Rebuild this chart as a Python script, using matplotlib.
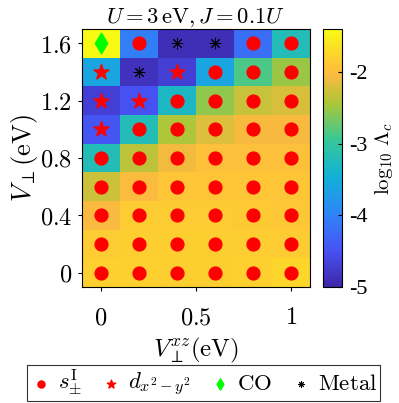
import numpy as np
import matplotlib
matplotlib.use("Agg")
import matplotlib.pyplot as plt
from matplotlib.colors import LinearSegmentedColormap

plt.rcParams["mathtext.fontset"] = "cm"
plt.rcParams["font.family"] = "DejaVu Serif"

# data
v_xz = [0.0, 0.2, 0.4, 0.6, 0.8, 1.0]
v_perp = [0.0, 0.2, 0.4, 0.6, 0.8, 1.0, 1.2, 1.4, 1.6]
# log10 Lambda_c, rows follow v_perp (bottom to top), columns follow v_xz
log_lambda = [
    [-1.80, -1.80, -1.81, -1.81, -1.80, -1.74],
    [-1.84, -1.82, -1.82, -1.82, -1.83, -1.85],
    [-2.05, -1.85, -1.84, -1.84, -1.86, -1.88],
    [-2.28, -2.02, -1.90, -1.90, -1.90, -1.90],
    [-3.20, -2.35, -2.10, -1.95, -1.95, -1.95],
    [-4.45, -3.20, -2.42, -2.20, -2.07, -2.07],
    [-4.70, -4.50, -3.30, -2.55, -2.30, -2.22],
    [-3.60, -4.85, -4.70, -3.60, -2.85, -2.50],
    [-1.40, -4.05, -4.90, -4.90, -4.20, -3.20],
]
# S = s+-, D = d_{x2-y2}, C = CO, M = Metal
phase = [
    "SSSSSS",
    "SSSSSS",
    "SSSSSS",
    "SSSSSS",
    "SSSSSS",
    "DSSSSS",
    "DDSSSS",
    "DMDSSS",
    "CSMMSS",
]
cbar_ticks = [-5, -4, -3, -2]

parula = LinearSegmentedColormap.from_list("parula", [
    (0.000, (0.2422, 0.1504, 0.6603)),
    (0.143, (0.2810, 0.3228, 0.9579)),
    (0.286, (0.1786, 0.5289, 0.9682)),
    (0.429, (0.0689, 0.6948, 0.8394)),
    (0.571, (0.2161, 0.7843, 0.5923)),
    (0.714, (0.6720, 0.7793, 0.2227)),
    (0.820, (0.9850, 0.7300, 0.2500)),
    (0.857, (0.9970, 0.7659, 0.2199)),
    (1.000, (0.9769, 0.9839, 0.0805)),
])

fig = plt.figure(figsize=(3.99, 4.03), dpi=100)
ax = fig.add_axes([0.2055, 0.288, 0.571, 0.640])
cax = fig.add_axes([0.809, 0.288, 0.0476, 0.640])

z = np.array(log_lambda)
dx = v_xz[1] - v_xz[0]
dy = v_perp[1] - v_perp[0]
im = ax.imshow(z, origin="lower", cmap=parula, vmin=-5, vmax=-1.4, aspect="auto",
               extent=[v_xz[0] - dx / 2, v_xz[-1] + dx / 2,
                       v_perp[0] - dy / 2, v_perp[-1] + dy / 2])

styles = {
    "S": dict(marker="o", color="red", s=85, label=r"$s_{\pm}^{\mathrm{I}}$"),
    "D": dict(marker="*", color="red", s=130, label=r"$d_{x^2-y^2}$"),
    "C": dict(marker="d", color="#00ff00", s=110, label=r"$\mathrm{CO}$"),
    "M": dict(marker=(8, 2, 0), color="black", s=60, linewidths=0.7,
              label=r"$\mathrm{Metal}$"),
}
for key in "SDCM":
    xs, ys = [], []
    for i, row in enumerate(phase):
        for j, p in enumerate(row):
            if p == key:
                xs.append(v_xz[j])
                ys.append(v_perp[i])
    ax.scatter(xs, ys, zorder=3, **styles[key])

ax.set_xlim(v_xz[0] - dx / 2, v_xz[-1] + dx / 2)
ax.set_ylim(v_perp[0] - dy / 2, v_perp[-1] + dy / 2)
ax.set_xticks([0, 0.5, 1])
ax.set_xticklabels([r"$0$", r"$0.5$", r"$1$"])
ax.set_yticks([0, 0.4, 0.8, 1.2, 1.6])
ax.set_yticklabels([r"$0$", r"$0.4$", r"$0.8$", r"$1.2$", r"$1.6$"])
ax.tick_params(labelsize=17.5, length=3, width=0.8)
ax.tick_params(axis="x", pad=11)
ax.tick_params(axis="y", pad=4)
ax.set_xlabel(r"$V_{\perp}^{xz}(\mathrm{eV})$", fontsize=18, labelpad=5)
ax.set_ylabel(r"$V_{\perp}(\mathrm{eV})$", fontsize=19, labelpad=0)
ax.set_title(r"$U = 3\,\mathrm{eV}, J = 0.1U$", fontsize=16.3, pad=3)
for sp in ax.spines.values():
    sp.set_linewidth(0.8)

cb = fig.colorbar(im, cax=cax, ticks=cbar_ticks)
cb.ax.tick_params(direction="in", length=3, width=0.8, labelsize=16, pad=5)
cb.ax.set_yticklabels([f"-{abs(t)}" for t in cbar_ticks], family="Liberation Serif")
cb.set_label(r"$\log_{10}\,\Lambda_c$", fontsize=15, labelpad=4)
cb.outline.set_linewidth(0.8)

leg = fig.legend(*ax.get_legend_handles_labels(), loc="lower center",
                 bbox_to_anchor=(0.51, 0.0), ncol=4, fontsize=16.5, markerscale=0.55,
                 frameon=True, fancybox=False, edgecolor="black", handletextpad=0.25,
                 columnspacing=0.75, borderpad=0.1, borderaxespad=0.1,
                 handlelength=1.0)
leg.get_frame().set_linewidth(0.8)

fig.savefig("out.png", dpi=100)
plt.close()
